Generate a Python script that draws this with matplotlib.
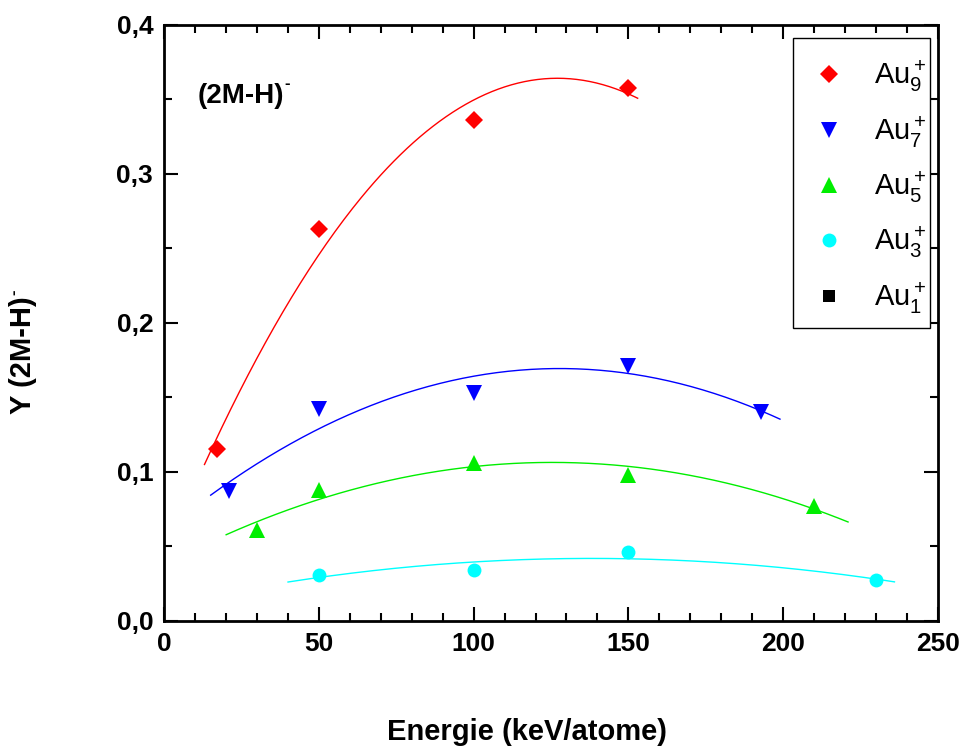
import numpy as np
import matplotlib
matplotlib.use("Agg")
import matplotlib.pyplot as plt
from matplotlib.ticker import MultipleLocator, FuncFormatter
from matplotlib.lines import Line2D
from matplotlib.patches import Rectangle

plt.rcParams['font.family'] = ['Liberation Sans', 'DejaVu Sans']
plt.rcParams['mathtext.fontset'] = 'custom'
plt.rcParams['mathtext.rm'] = 'Liberation Sans'
plt.rcParams['mathtext.it'] = 'Liberation Sans'
plt.rcParams['mathtext.bf'] = 'Liberation Sans:bold'

# Data
au9_x = [17, 50, 100, 150]
au9_y = [0.115, 0.263, 0.336, 0.358]
au7_x = [21, 50, 100, 150, 193]
au7_y = [0.087, 0.142, 0.153, 0.171, 0.140]
au5_x = [30, 50, 100, 150, 210]
au5_y = [0.061, 0.088, 0.106, 0.098, 0.077]
au3_x = [50, 100, 150, 230]
au3_y = [0.031, 0.034, 0.046, 0.027]

# fit ranges
fit_ranges = {'au9': (13, 153), 'au7': (15, 199), 'au5': (20, 221), 'au3': (40, 236)}

fig = plt.figure(figsize=(9.64, 7.53), dpi=100)
ax = fig.add_axes([0.1704, 0.1757, 0.8024, 0.7911])

# helpers: pixel (from top-left) -> axes fraction
X0, X1, Y0, Y1 = 164.3, 937.8, 620.7, 25.0
def px2ax(px, py):
    return ((px - X0) / (X1 - X0), (Y0 - py) / (Y0 - Y1))

GREEN = '#00ee00'
series = [
    ('au9', au9_x, au9_y, 'red', 'D', 9),
    ('au7', au7_x, au7_y, 'blue', 'v', 11.5),
    ('au5', au5_x, au5_y, GREEN, '^', 11.5),
    ('au3', au3_x, au3_y, 'cyan', 'o', 10),
]
for key, xs, ys, col, mk, ms in series:
    c = np.polyfit(xs, ys, 2)
    lo, hi = fit_ranges[key]
    xf = np.linspace(lo, hi, 200)
    ax.plot(xf, np.polyval(c, xf), color=col, lw=1.0, zorder=2)
    ax.plot(xs, ys, linestyle='none', marker=mk, color=col, markersize=ms,
            markeredgewidth=0, zorder=3)

ax.set_xlim(0, 250)
ax.set_ylim(0, 0.4)
ax.xaxis.set_major_locator(MultipleLocator(50))
ax.xaxis.set_minor_locator(MultipleLocator(10))
ax.yaxis.set_major_locator(MultipleLocator(0.1))
ax.yaxis.set_minor_locator(MultipleLocator(0.05))
ax.yaxis.set_major_formatter(FuncFormatter(lambda v, p: f"{v:.1f}".replace('.', ',')))
ax.tick_params(which='both', direction='in', top=True, right=True, width=1.5)
ax.tick_params(which='major', length=10, labelsize=19, pad=8)
ax.tick_params(which='minor', length=6)
for lab in ax.get_xticklabels() + ax.get_yticklabels():
    lab.set_fontweight('bold')
for sp in ax.spines.values():
    sp.set_linewidth(2)

ax.set_xlabel('Energie (keV/atome)', fontsize=21, fontweight='bold', va='baseline')
ax.xaxis.set_label_coords(0.469, -0.2003)
ylab = ax.set_ylabel('Y (2M-H)', fontsize=21, fontweight='bold', va='center')
ax.yaxis.set_label_coords(-0.183, 0.446)
ax.annotate('-', xy=(0.0, 1.0), xycoords=ylab, xytext=(-2, 1), textcoords='offset points',
            rotation=90, fontsize=12, fontweight='bold', ha='left', va='bottom')

tx, ty = px2ax(198, 103)
ax.text(tx, ty, '(2M-H)', transform=ax.transAxes, fontsize=20, fontweight='bold',
        va='baseline', ha='left')
sx, sy = px2ax(284, 88)
ax.text(sx, sy, '-', transform=ax.transAxes, fontsize=12, fontweight='bold',
        va='baseline', ha='left')

# legend frame drawn explicitly
rx0, ry0 = px2ax(793, 328)
rx1, ry1 = px2ax(930, 38)
ax.add_patch(Rectangle((rx0, ry0), rx1 - rx0, ry1 - ry0, transform=ax.transAxes,
                       facecolor='white', edgecolor='black', lw=1.0, zorder=4.9,
                       clip_on=False))

handles = [
    Line2D([], [], linestyle='none', marker='D', color='red', markersize=9, markeredgewidth=0),
    Line2D([], [], linestyle='none', marker='v', color='blue', markersize=11.5, markeredgewidth=0),
    Line2D([], [], linestyle='none', marker='^', color=GREEN, markersize=11.5, markeredgewidth=0),
    Line2D([], [], linestyle='none', marker='o', color='cyan', markersize=10, markeredgewidth=0),
    Line2D([], [], linestyle='none', marker='s', color='black', markersize=8, markeredgewidth=0),
]
labels = [r'Au$_9^+$', r'Au$_7^+$', r'Au$_5^+$', r'Au$_3^+$', r'Au$_1^+$']
lx, ly = px2ax(804.4, 58.6)
leg = ax.legend(handles, labels, loc='upper left', bbox_to_anchor=(lx, ly),
                borderaxespad=0, fontsize=21, frameon=False,
                labelspacing=0.67, handletextpad=0.67,
                borderpad=0, handlelength=1.7)
leg.set_zorder(5)

fig.savefig('out.png', dpi=100)
